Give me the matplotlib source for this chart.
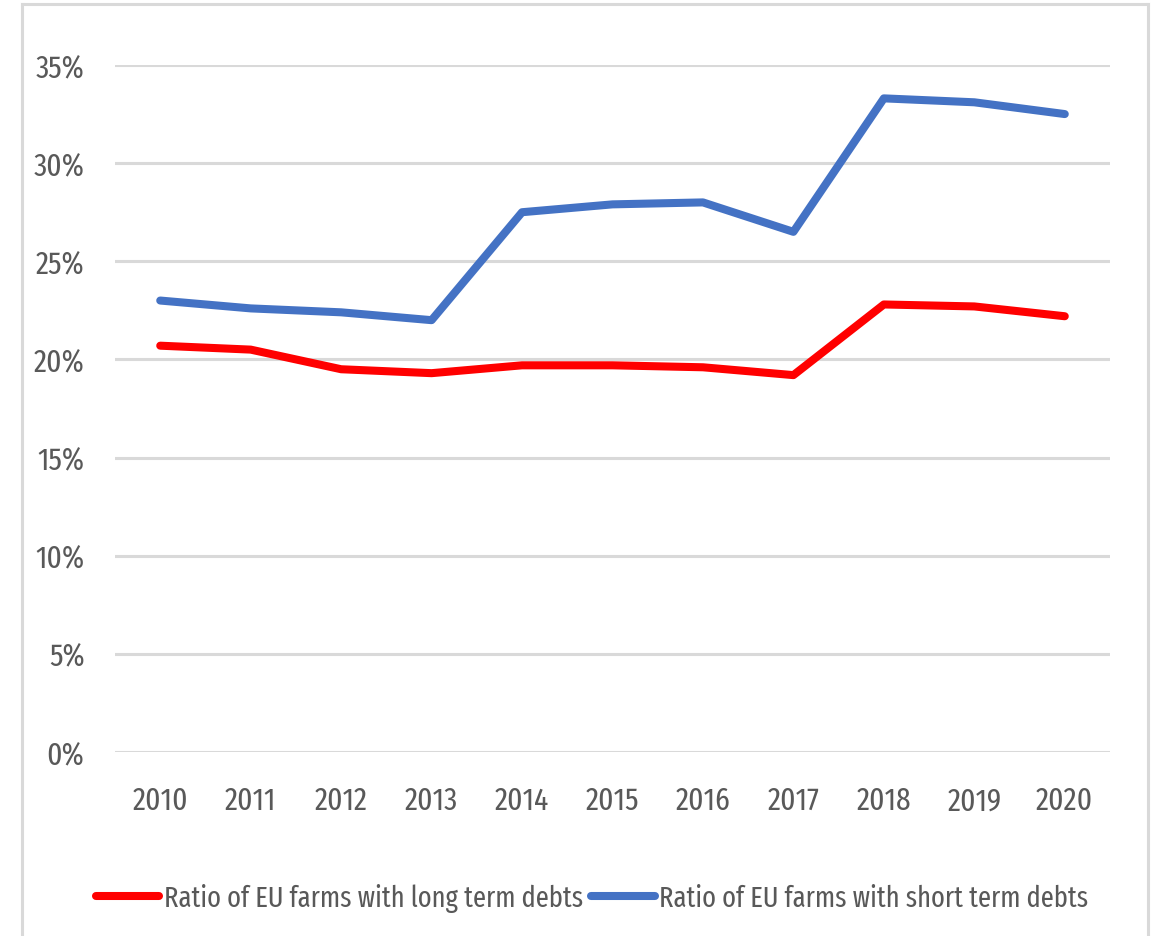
import matplotlib
matplotlib.use("Agg")
import matplotlib.pyplot as plt
from matplotlib.lines import Line2D
from matplotlib.ticker import FuncFormatter

years = [2010, 2011, 2012, 2013, 2014, 2015, 2016, 2017, 2018, 2019, 2020]
long_term = [20.7, 20.5, 19.5, 19.3, 19.7, 19.7, 19.6, 19.2, 22.8, 22.7, 22.2]
short_term = [23.0, 22.6, 22.4, 22.0, 27.5, 27.9, 28.0, 26.5, 33.3, 33.1, 32.5]
yticks = [0, 5, 10, 15, 20, 25, 30, 35]
labels = ["Ratio of EU farms with long term debts", "Ratio of EU farms with short term debts"]

plt.rcParams['font.family'] = ['Fira Sans Extra Condensed', 'DejaVu Sans']
plt.rcParams['font.weight'] = 'normal'
txt = '#595959'
FS = 23

fig = plt.figure(figsize=(11.52, 9.37), dpi=100)
ax = fig.add_axes([115/1152, 1-753/937, (1110-115)/1152, (753-66)/937])

ax.plot(years, long_term, color='#FF0000', lw=5.8, solid_capstyle='round', solid_joinstyle='round', label=labels[0])
ax.plot(years, short_term, color='#4472C4', lw=5.8, solid_capstyle='round', solid_joinstyle='round', label=labels[1])

ax.set_xlim(2009.5, 2020.5)
ax.set_ylim(0, 35)
ax.set_yticks(yticks)
ax.yaxis.set_major_formatter(FuncFormatter(lambda v, p: f"{int(v)}%"))
ax.set_xticks(years)
ax.grid(axis='y', color='#D9D9D9', lw=2.2)
ax.set_axisbelow(True)
for s in ax.spines.values():
    s.set_visible(False)
ax.tick_params(axis='both', length=0, labelsize=FS, colors=txt)
ax.tick_params(axis='y', pad=22)
ax.tick_params(axis='x', pad=24)

leg = fig.legend(loc='center', bbox_to_anchor=(592/1152, 1-899/937), ncol=2, frameon=False,
                 fontsize=20.75, handlelength=2.2, handletextpad=0.15, columnspacing=0.3,
                 labelcolor=txt)

# outer border (left, top, right)
c = '#D9D9D9'
fig.add_artist(Line2D([22/1152, 22/1152], [0, 1-5/937], color=c, lw=2.2, transform=fig.transFigure))
fig.add_artist(Line2D([22/1152, 1148/1152], [1-5/937, 1-5/937], color=c, lw=2.2, transform=fig.transFigure))
fig.add_artist(Line2D([1148/1152, 1148/1152], [0, 1-5/937], color=c, lw=2.2, transform=fig.transFigure))

fig.savefig('out.png', dpi=100, facecolor='white')
